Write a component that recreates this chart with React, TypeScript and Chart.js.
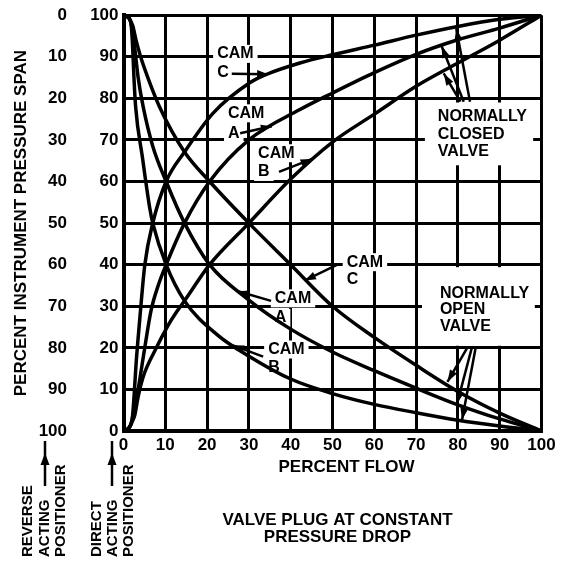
import React, { useEffect, useRef } from "react";
import { Chart, registerables } from "chart.js";

Chart.register(...registerables);

// ---------- data ----------
const flowTicks = [0, 10, 20, 30, 40, 50, 60, 70, 80, 90, 100];

// Normally closed valve (span rises with flow)
const closedCamCFlow = [0, 0.8, 1.6, 2.1, 2.5, 3.0, 3.9, 5.1, 7, 10.2, 14.6, 21.5, 30.3, 34.3, 42.2, 50, 60, 70, 80, 90, 100];
const closedCamCSpan = [0, 0.3, 1.2, 3, 8, 16, 27, 40, 50, 60, 67.1, 76.5, 83.8, 85.8, 88.5, 90.5, 92.8, 95.2, 97.3, 99, 100];

const closedCamAFlow = [0, 0.8, 1.6, 2.1, 2.6, 3.5, 5.0, 6.6, 8.3, 10.2, 14.6, 20.6, 30, 42.2, 50, 60, 70, 80, 90, 100];
const closedCamASpan = [0, 0.3, 1.2, 3, 5.5, 10, 19.5, 29, 35, 40, 50, 60, 70, 77.3, 81.3, 86.2, 90.6, 94.1, 96.9, 100];

const closedCamBFlow = [0, 0.8, 1.6, 2.2, 2.7, 3.5, 4.7, 7.5, 10.6, 12.6, 14.6, 20.6, 30, 40, 50, 60, 70, 80, 90, 100];
const closedCamBSpan = [0, 0.3, 1.2, 2.5, 3.8, 8.2, 13, 19.3, 25.3, 28.5, 31.3, 40, 50, 60.6, 69.5, 76.2, 82.9, 88.5, 94, 100];

// Normally open valve (span falls with flow)
const openCamCFlow = [0, 0.8, 1.6, 2.2, 3.0, 4.1, 6, 8.6, 14.6, 20.6, 30, 40, 50, 60, 70, 80, 90, 100];
const openCamCSpan = [100, 99.7, 98.8, 97.5, 94, 90, 84.5, 78, 67.1, 60, 50, 40, 30, 22.5, 15.8, 9.5, 4.3, 0];

const openCamAFlow = [0, 0.8, 1.6, 2.0, 2.7, 3.5, 4.7, 7, 10.2, 14.6, 20.6, 30, 40, 50, 60, 70, 80, 90, 100];
const openCamASpan = [100, 99.7, 98.8, 97, 92, 85, 78, 68.5, 60, 50, 40, 31.5, 24.5, 19, 14.5, 10.3, 6.3, 2.9, 0];

const openCamBFlow = [0, 0.8, 1.6, 1.9, 2.2, 2.5, 2.9, 4.5, 6.3, 7, 10.2, 14.6, 22.6, 30, 40, 50, 60, 70, 80, 90, 100];
const openCamBSpan = [100, 99.7, 98.8, 97, 92, 85, 78, 66, 53.5, 50, 40, 31.3, 23, 18, 12.5, 9, 6.4, 4.4, 2.6, 1.2, 0];

const curves = [
  { flow: closedCamCFlow, span: closedCamCSpan },
  { flow: closedCamAFlow, span: closedCamASpan },
  { flow: closedCamBFlow, span: closedCamBSpan },
  { flow: openCamCFlow, span: openCamCSpan },
  { flow: openCamAFlow, span: openCamASpan },
  { flow: openCamBFlow, span: openCamBSpan },
];

// ---------- annotations (in data units) ----------
const camLabels = [
  { lines: ["CAM", "C"], x: 22.4, ys: [90.7, 86.2], arrow: [25.9, 85.9, 34.6, 85.8] },
  { lines: ["CAM", "A"], x: 25.0, ys: [76.4, 71.6], arrow: [27.9, 71.6, 35.5, 73.3] },
  { lines: ["CAM", "B"], x: 32.2, ys: [66.8, 62.3], arrow: [37.2, 62.3, 45.0, 65.4] },
  { lines: ["CAM", "C"], x: 53.4, ys: [40.6, 36.5], arrow: [51.3, 40.1, 43.4, 36.2] },
  { lines: ["CAM", "A"], x: 36.2, ys: [31.9, 27.2], arrow: [35.3, 31.3, 27.4, 33.6] },
  { lines: ["CAM", "B"], x: 34.6, ys: [19.6, 15.3], arrow: [33.4, 17.9, 26.2, 20.6] },
];

const valveLabels = [
  {
    lines: ["NORMALLY", "CLOSED", "VALVE"], x: 75.2, ys: [75.7, 71.4, 67.3],
    box: [72.1, 63.9, 98.0, 79.0],
    arrows: [
      [82.9, 79.2, 79.6, 96.8],
      [81.4, 79.2, 76.1, 92.6],
      [80.6, 79.2, 76.6, 86.0],
    ],
  },
  {
    lines: ["NORMALLY", "OPEN", "VALVE"], x: 75.7, ys: [33.1, 29.1, 25.1],
    box: [71.4, 20.5, 98.4, 39.4],
    arrows: [
      [82.4, 20.3, 77.5, 11.8],
      [83.4, 20.3, 79.8, 6.6],
      [84.3, 20.3, 81.0, 2.7],
    ],
  },
];

const FONT = '"Liberation Sans", Arial, Helvetica, sans-serif';

function drawArrow(ctx: CanvasRenderingContext2D, x1: number, y1: number, x2: number, y2: number, head = 11, half = 4) {
  ctx.beginPath();
  ctx.moveTo(x1, y1);
  ctx.lineTo(x2, y2);
  ctx.stroke();
  const a = Math.atan2(y2 - y1, x2 - x1);
  const bx = x2 - head * Math.cos(a);
  const by = y2 - head * Math.sin(a);
  ctx.beginPath();
  ctx.moveTo(x2, y2);
  ctx.lineTo(bx + half * Math.sin(a), by - half * Math.cos(a));
  ctx.lineTo(bx - half * Math.sin(a), by + half * Math.cos(a));
  ctx.closePath();
  ctx.fill();
}

const annotationPlugin = {
  id: "valveAnnotations",
  beforeDatasetsDraw(chart: any) {
    const { ctx, scales } = chart;
    const xs = scales.x;
    const ys = scales.y;
    ctx.save();
    ctx.fillStyle = "#fff";
    for (const v of valveLabels) {
      const x0 = xs.getPixelForValue(v.box[0]);
      const x1 = xs.getPixelForValue(v.box[2]);
      const y0 = ys.getPixelForValue(v.box[3]);
      const y1 = ys.getPixelForValue(v.box[1]);
      ctx.fillRect(x0, y0, x1 - x0, y1 - y0);
    }
    ctx.font = `bold 16px ${FONT}`;
    for (const c of camLabels) {
      c.lines.forEach((t, i) => {
        const w = ctx.measureText(t).width;
        const px = xs.getPixelForValue(c.x);
        const py = ys.getPixelForValue(c.ys[i]);
        ctx.fillRect(px - 4, py - 9, w + 8, 18);
      });
    }
    ctx.restore();
  },
  afterDatasetsDraw(chart: any) {
    const { ctx, scales } = chart;
    const xs = scales.x;
    const ys = scales.y;
    ctx.save();
    ctx.fillStyle = "#000";
    ctx.strokeStyle = "#000";
    ctx.lineWidth = 2.5;
    ctx.font = `bold 16px ${FONT}`;
    ctx.textAlign = "left";
    ctx.textBaseline = "middle";
    for (const c of camLabels) {
      c.lines.forEach((t, i) => {
        ctx.fillText(t, xs.getPixelForValue(c.x), ys.getPixelForValue(c.ys[i]));
      });
      const [a, b, d, e] = c.arrow;
      drawArrow(ctx, xs.getPixelForValue(a), ys.getPixelForValue(b), xs.getPixelForValue(d), ys.getPixelForValue(e));
    }
    for (const v of valveLabels) {
      v.lines.forEach((t, i) => {
        ctx.fillText(t, xs.getPixelForValue(v.x), ys.getPixelForValue(v.ys[i]));
      });
      for (const [a, b, d, e] of v.arrows) {
        drawArrow(ctx, xs.getPixelForValue(a), ys.getPixelForValue(b), xs.getPixelForValue(d), ys.getPixelForValue(e), 12, 4);
      }
    }
    ctx.restore();
  },
  afterDraw(chart: any) {
    const { ctx, chartArea } = chart;
    ctx.save();
    ctx.fillStyle = "#000";
    ctx.strokeStyle = "#000";
    ctx.textBaseline = "middle";
    ctx.textAlign = "center";
    ctx.font = `bold 17px ${FONT}`;
    const cx = (chartArea.left + chartArea.right) / 2;
    ctx.fillText("PERCENT FLOW", cx + 14, chartArea.bottom + 36);
    ctx.fillText("VALVE PLUG AT CONSTANT", cx + 5, chartArea.bottom + 89);
    ctx.fillText("PRESSURE DROP", cx + 5, chartArea.bottom + 106);

    // positioner legends
    ctx.font = `bold 15px ${FONT}`;
    ctx.textAlign = "left";
    const groups = [
      { lines: ["REVERSE", "ACTING", "POSITIONER"], cols: [28, 44.5, 61], arrowX: 45 },
      { lines: ["DIRECT", "ACTING", "POSITIONER"], cols: [97, 113, 129], arrowX: 112 },
    ];
    const baseY = chartArea.bottom + 126;
    for (const g of groups) {
      g.lines.forEach((t, i) => {
        ctx.save();
        ctx.translate(g.cols[i], baseY);
        ctx.rotate(-Math.PI / 2);
        ctx.fillText(t, 0, 0);
        ctx.restore();
      });
      ctx.lineWidth = 2.5;
      ctx.beginPath();
      ctx.moveTo(g.arrowX, chartArea.bottom + 10);
      ctx.lineTo(g.arrowX, chartArea.bottom + 55);
      ctx.stroke();
      ctx.beginPath();
      ctx.moveTo(g.arrowX, chartArea.bottom + 22);
      ctx.lineTo(g.arrowX - 4.5, chartArea.bottom + 34);
      ctx.lineTo(g.arrowX + 4.5, chartArea.bottom + 34);
      ctx.closePath();
      ctx.fill();
    }
    ctx.restore();
  },
};

export default function App() {
  const canvasRef = useRef<HTMLCanvasElement | null>(null);

  useEffect(() => {
    if (!canvasRef.current) return;
    const tickFont = { family: FONT, size: 17, weight: "bold" as const };
    const chart = new Chart(canvasRef.current, {
      type: "line",
      data: {
        datasets: curves.map((c) => ({
          data: c.flow.map((f, i) => ({ x: f, y: c.span[i] })),
          borderColor: "#000",
          borderWidth: 3.5,
          pointRadius: 0,
          fill: false,
          cubicInterpolationMode: "monotone" as const,
        })),
      },
      options: {
        responsive: false,
        maintainAspectRatio: false,
        animation: false,
        layout: { padding: { top: 12, right: 26.5, left: 0, bottom: 0 } },
        plugins: { legend: { display: false }, tooltip: { enabled: false } },
        scales: {
          x: {
            type: "linear",
            position: "bottom",
            min: 0,
            max: 100,
            afterBuildTicks: (s: any) => {
              s.ticks = flowTicks.map((v) => ({ value: v }));
            },
            ticks: { color: "#000", font: tickFont, padding: 4, maxRotation: 0, autoSkip: false },
            grid: { color: "#000", lineWidth: 3, drawTicks: false },
            border: { color: "#000", width: 4 },
            afterFit: (s: any) => {
              s.height = 136;
            },
          },
          y: {
            type: "linear",
            position: "left",
            weight: 0,
            min: 0,
            max: 100,
            afterBuildTicks: (s: any) => {
              s.ticks = flowTicks.map((v) => ({ value: v }));
            },
            ticks: { color: "#000", font: tickFont, padding: 5, autoSkip: false },
            grid: { color: "#000", lineWidth: 3, drawTicks: false },
            border: { color: "#000", width: 4 },
            afterFit: (s: any) => {
              s.width = 45.5;
            },
          },
          yRev: {
            type: "linear",
            position: "left",
            weight: 1,
            reverse: true,
            min: 0,
            max: 100,
            afterBuildTicks: (s: any) => {
              s.ticks = flowTicks.map((v) => ({ value: v }));
            },
            ticks: { color: "#000", font: tickFont, padding: 3, autoSkip: false },
            grid: { display: false },
            border: { display: false },
            title: {
              display: true,
              text: "PERCENT INSTRUMENT PRESSURE SPAN",
              color: "#000",
              font: { family: FONT, size: 17, weight: "bold" },
              padding: { top: 11, bottom: 0 },
            },
            afterFit: (s: any) => {
              s.width = 78;
            },
          },
        },
      },
      plugins: [annotationPlugin],
    });
    return () => chart.destroy();
  }, []);

  return (
    <div style={{ position: "fixed", left: 0, top: 0, width: 568, height: 567, background: "#fff" }}>
      <canvas ref={canvasRef} width={568} height={567} style={{ display: "block" }} />
    </div>
  );
}
